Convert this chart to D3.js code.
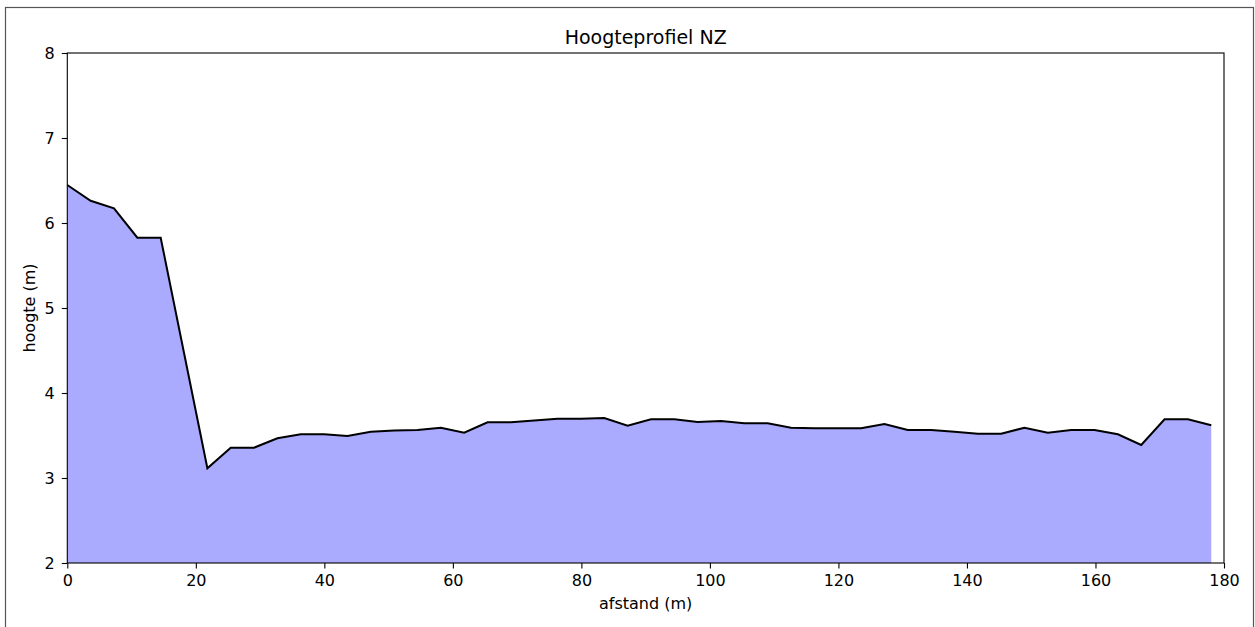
<!DOCTYPE html>
<html>
<head>
<meta charset="utf-8">
<script src="https://cdn.jsdelivr.net/npm/d3@7"></script>
<style>
  html, body { margin: 0; padding: 0; background: #fff; }
  svg { display: block; font-family: "DejaVu Sans", sans-serif; }
</style>
</head>
<body>
<svg id="chart" width="1255" height="627"></svg>
<script>
const title = "Hoogteprofiel NZ";
const xLabel = "afstand (m)";
const yLabel = "hoogte (m)";
const xStep = 3.633; // spacing of profile samples (m)
const heights = [
  6.447, 6.262, 6.173, 5.827, 5.827, 4.47, 3.114, 3.357, 3.357, 3.467,
  3.514, 3.514, 3.494, 3.545, 3.56, 3.565, 3.592, 3.533, 3.655, 3.655,
  3.676, 3.698, 3.698, 3.706, 3.615, 3.69, 3.69, 3.659, 3.671, 3.643,
  3.643, 3.592, 3.585, 3.585, 3.585, 3.635, 3.565, 3.565, 3.545, 3.52,
  3.52, 3.592, 3.533, 3.565, 3.565, 3.514, 3.388, 3.69, 3.69, 3.62
];
const distances = heights.map((_, i) => i * xStep);
const xTicks = [0, 20, 40, 60, 80, 100, 120, 140, 160, 180];
const yTicks = [2, 3, 4, 5, 6, 7, 8];

const data = heights.map((h, i) => ({ d: distances[i], h }));

const svg = d3.select("#chart");
const m = { left: 67.3, right: 1224, top: 53, bottom: 563 };

// outer figure border
svg.append("rect")
  .attr("x", 5.5).attr("y", 7.5)
  .attr("width", 1248).attr("height", 700)
  .attr("fill", "none").attr("stroke", "#555").attr("stroke-width", 1.2);

const x = d3.scaleLinear().domain([0, 180]).range([m.left, m.right]);
const y = d3.scaleLinear().domain([2, 8]).range([m.bottom, m.top]);

const area = d3.area().x(d => x(d.d)).y0(y(2)).y1(d => y(d.h));
const line = d3.line().x(d => x(d.d)).y(d => y(d.h));

svg.append("path").datum(data).attr("d", area).attr("fill", "#aaaaff");
svg.append("path").datum(data).attr("d", line)
  .attr("fill", "none").attr("stroke", "#000").attr("stroke-width", 2)
  .attr("stroke-linejoin", "miter");

// frame
svg.append("rect")
  .attr("x", m.left).attr("y", m.top)
  .attr("width", m.right - m.left).attr("height", m.bottom - m.top)
  .attr("fill", "none").attr("stroke", "#000").attr("stroke-width", 1.1);

const xAxis = svg.append("g").attr("transform", `translate(0,${m.bottom})`)
  .call(d3.axisBottom(x).tickValues(xTicks).tickFormat(d3.format("d"))
    .tickSize(5.5).tickPadding(6.5));
const yAxis = svg.append("g").attr("transform", `translate(${m.left},0)`)
  .call(d3.axisLeft(y).tickValues(yTicks).tickFormat(d3.format("d"))
    .tickSize(5.5).tickPadding(7));
[xAxis, yAxis].forEach(g => {
  g.select(".domain").remove();
  g.selectAll("line").attr("stroke", "#000").attr("stroke-width", 1.1);
  g.selectAll("text").attr("fill", "#000")
    .style("font-family", "'DejaVu Sans', sans-serif").style("font-size", "16px");
});

svg.append("text").attr("x", (m.left + m.right) / 2).attr("y", 44)
  .attr("text-anchor", "middle").style("font-size", "19px").attr("fill", "#000")
  .text(title);
svg.append("text").attr("x", (m.left + m.right) / 2).attr("y", 609)
  .attr("text-anchor", "middle").style("font-size", "16px").attr("fill", "#000")
  .text(xLabel);
svg.append("text").attr("transform", `translate(35,${(m.top + m.bottom) / 2}) rotate(-90)`)
  .attr("text-anchor", "middle").style("font-size", "16px").attr("fill", "#000")
  .text(yLabel);
</script>
</body>
</html>
